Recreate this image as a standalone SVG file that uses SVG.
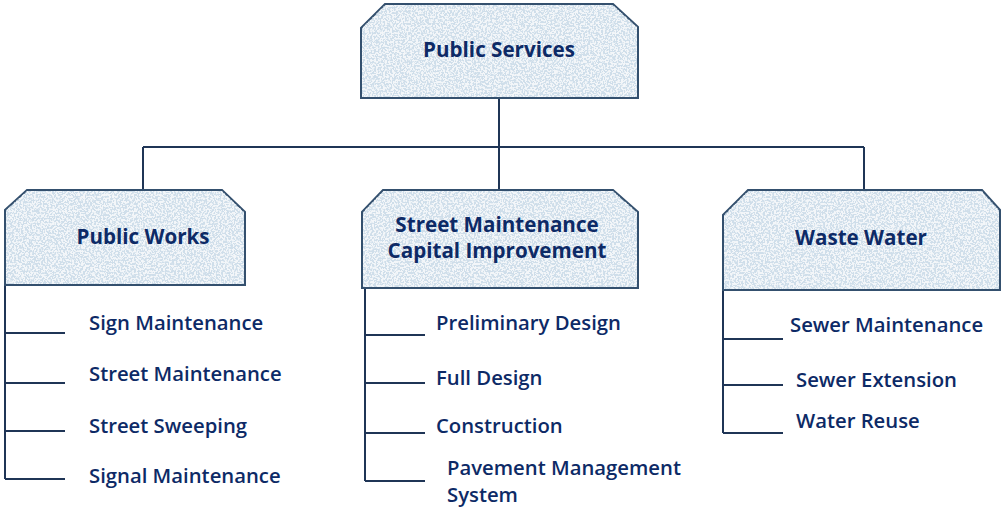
<svg xmlns="http://www.w3.org/2000/svg" width="1002" height="508" viewBox="0 0 1002 508">
<style>
.box{fill:#cfdeea;stroke:#34506e;stroke-width:2}
.tex{fill:#ffffff;stroke:none}
.lbl{font-family:"Open Sans","Liberation Sans",sans-serif;font-weight:700;font-size:20.6px;fill:#0d2a66;text-anchor:middle}
.item{font-family:"Open Sans","Liberation Sans",sans-serif;font-weight:600;font-size:20.3px;fill:#0d2a66}
.ln{fill:none;stroke:#1f3556;stroke-width:2}
</style>
<defs>
<filter id="speck" x="0" y="0" width="100%" height="100%">
<feTurbulence type="fractalNoise" baseFrequency="0.55" numOctaves="2" seed="3" result="n"/>
<feColorMatrix in="n" type="matrix" values="0 0 0 0 1  0 0 0 0 1  0 0 0 0 1  0 0 0 -9 5.0" result="w"/>
<feComposite in="w" in2="SourceGraphic" operator="in"/>
</filter>
</defs>
<g id="connectors" class="ln">
<path d="M499 98V147M143 147H864M143 147V190M499 147V190M864 147V190"/>
<path d="M5 285V479M5 333H65M5 383H65M5 431H65M5 479H65"/>
<path d="M365 288V481M365 335H425M365 383H425M365 433H425M365 481H425"/>
<path d="M723 290V433M723 339H783M723 385H783M723 433H783"/>
</g>
<g id="public-services">
<path class="box" d="M385 4H613L638 27V98H361V28Z"/>
<path class="tex" filter="url(#speck)" opacity="0.75" d="M385 5H613L637 27V97H362V28Z"/>
<text class="lbl" x="499" y="57">Public Services</text>
</g>
<g id="public-works">
<path class="box" d="M27 190H222L245 212V285H5V210Z"/>
<path class="tex" filter="url(#speck)" opacity="0.75" d="M27 191H222L244 212V284H6V210Z"/>
<text class="lbl" x="143" y="244">Public Works</text>
</g>
<g id="street-maintenance">
<path class="box" d="M383 190H613L638 212V288H362V212Z"/>
<path class="tex" filter="url(#speck)" opacity="0.75" d="M383 191H613L637 212V287H363V212Z"/>
<text class="lbl" x="497" y="232">Street Maintenance</text>
<text class="lbl" x="497" y="258">Capital Improvement</text>
</g>
<g id="waste-water">
<path class="box" d="M748 190H982L1000 210V290H723V215Z"/>
<path class="tex" filter="url(#speck)" opacity="0.75" d="M748 191H982L999 210V289H724V215Z"/>
<text class="lbl" x="861" y="245">Waste Water</text>
</g>
<g id="public-works-items" class="item">
<text x="89" y="330">Sign Maintenance</text>
<text x="89" y="381">Street Maintenance</text>
<text x="89" y="433">Street Sweeping</text>
<text x="89" y="483">Signal Maintenance</text>
</g>
<g id="street-items" class="item">
<text x="436" y="330">Preliminary Design</text>
<text x="436" y="385">Full Design</text>
<text x="436" y="433">Construction</text>
<text x="447" y="475">Pavement Management</text>
<text x="447" y="502">System</text>
</g>
<g id="waste-items" class="item">
<text x="790" y="332">Sewer Maintenance</text>
<text x="796" y="387">Sewer Extension</text>
<text x="796" y="428">Water Reuse</text>
</g>
</svg>
